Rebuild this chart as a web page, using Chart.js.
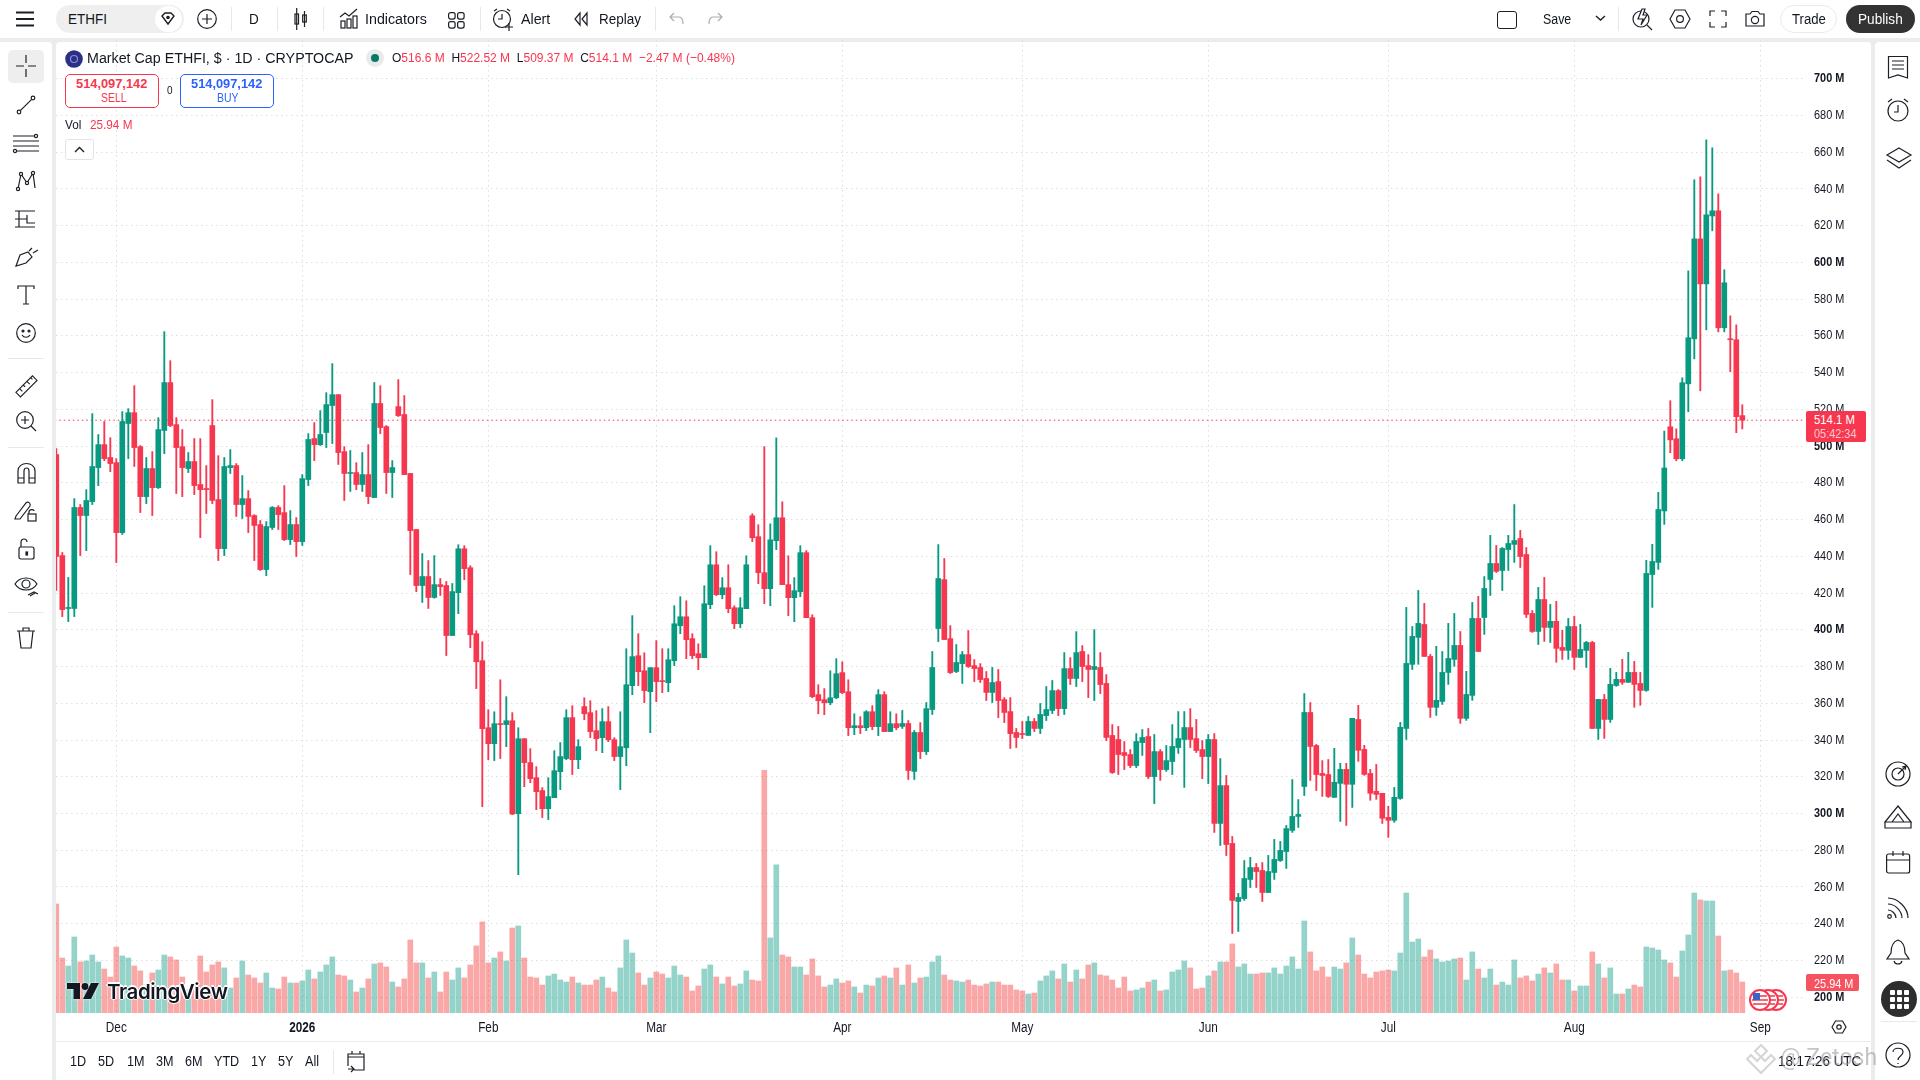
<!DOCTYPE html>
<html><head><meta charset="utf-8">
<script src="https://cdn.jsdelivr.net/npm/chart.js@4"></script>
<style>
html,body{margin:0;padding:0;width:1920px;height:1080px;overflow:hidden;background:#ebecec;font-family:"Liberation Sans",sans-serif;color:#131722}
.p{position:absolute;background:#fff}
.t{position:absolute;white-space:nowrap;line-height:1;transform-origin:0 50%}
svg{position:absolute;overflow:visible;fill:none;stroke:#1c1f26;stroke-width:1.2}
canvas{position:absolute;left:0;top:0}
.r{color:#f7374f}
</style></head><body>
<div class="p" style="left:0;top:0;width:1920px;height:38px"></div>
<div class="p" style="left:0;top:42px;width:52px;height:1038px;border-radius:0 4px 0 0"></div>
<div class="p" style="left:56px;top:42px;width:1815px;height:1038px;border-radius:4px 4px 0 0"></div>
<div class="p" style="left:1875px;top:42px;width:45px;height:1038px;border-radius:4px 0 0 0"></div>
<canvas id="c" width="1920" height="1080" style="width:1920px;height:1080px"></canvas>
<div id="ui"></div>
<script>
const monthTickIndex=[10,41,72,100,131,161,192,222,253,284];
const monthTickLabels=['Dec','2026','Feb','Mar','Apr','May','Jun','Jul','Aug','Sep'];
const priceTicks=[200,220,240,260,280,300,320,340,360,380,400,420,440,460,480,500,520,540,560,580,600,620,640,660,680,700];
const lastPrice=[514.1,514.1];
const opens=[495.4,440.4,411.6,411.6,466.6,462.2,469.8,488.3,500.8,493.8,
491.0,452.9,512.3,518.2,499.7,472.5,487.8,477.4,508.5,534.6,
511.7,499.7,487.8,491.6,479.1,476.9,511.2,470.9,444.2,488.3,
489.4,468.2,471.4,462.2,457.3,432.8,455.7,466.6,463.8,449.1,
457.3,448.0,481.8,504.1,500.8,507.4,522.1,528.0,497.0,485.1,
485.6,479.1,484.5,472.0,523.2,510.6,485.6,521.5,517.2,485.1,
454.6,424.1,429.0,417.6,424.6,424.1,396.9,420.2,444.1,433.8,
397.9,383.2,346.7,338.0,348.9,348.4,350.5,299.9,340.7,327.7,
319.5,312.5,302.6,308.6,322.8,329.9,352.2,329.3,358.2,354.9,
345.1,341.3,350.0,340.2,331.0,335.8,369.6,385.9,377.7,366.3,
379.4,372.3,371.2,383.2,402.2,407.1,395.2,387.0,384.8,413.7,
435.4,419.1,422.9,412.0,403.3,411.5,462.1,450.7,431.1,422.4,
448.5,461.0,424.6,417.5,420.7,442.0,406.6,364.7,362.0,360.3,
363.0,376.7,366.3,346.7,347.8,346.7,355.4,347.3,364.7,344.6,
348.9,347.4,349.0,322.9,344.1,333.7,356.6,400.7,427.3,395.2,
377.3,381.6,386.5,380.5,379.5,373.5,365.9,371.8,362.0,355.5,
344.1,343.5,342.5,350.1,346.3,353.3,356.1,366.9,357.1,378.9,
373.5,388.2,380.5,378.4,379.5,370.8,342.5,340.3,333.2,332.1,
326.1,338.6,341.9,320.1,333.7,323.9,328.3,335.9,340.3,346.8,
340.8,334.8,331.0,340.3,294.6,315.2,283.7,252.1,253.7,264.1,
270.6,269.0,257.0,267.9,274.4,279.3,290.8,298.4,314.7,355.0,
337.0,321.8,321.2,308.8,316.4,324.0,315.9,351.2,334.9,321.8,
312.1,311.0,297.9,296.3,308.2,346.3,381.2,395.9,402.9,385.5,
357.8,361.0,376.8,383.9,391.5,351.8,364.3,406.2,406.7,427.4,
436.1,432.3,443.7,446.5,449.7,441.0,408.9,399.1,416.5,401.3,
404.6,390.4,388.8,401.8,385.0,388.8,393.1,346.3,362.1,351.2,
369.7,373.0,371.4,376.8,370.8,367.0,430.1,436.7,464.7,510.5,
504.0,493.1,533.9,558.4,612.8,588.3,625.3,628.1,564.4,558.4,
557.9,516.6];
const closes=[439.9,411.0,412.1,466.6,462.2,470.4,488.9,500.8,493.2,490.5,
452.9,513.4,518.2,499.2,472.5,487.8,477.4,509.0,534.6,511.2,
499.2,488.3,491.6,478.5,476.3,476.3,470.4,444.2,488.9,489.4,
468.2,471.4,461.7,456.8,432.8,456.2,466.6,462.7,449.1,457.3,
448.0,482.3,503.6,500.8,506.3,522.6,528.0,496.5,485.1,485.6,
479.1,484.5,472.5,523.2,510.1,485.6,488.3,516.6,484.5,454.0,
424.1,429.0,417.6,424.6,423.5,396.9,420.8,444.1,433.3,397.3,
382.6,346.2,338.0,348.9,348.4,350.5,299.7,340.7,327.7,319.0,
311.9,302.6,309.2,323.3,331.0,352.2,329.3,336.4,354.3,344.6,
340.7,350.0,340.2,331.0,336.4,370.1,385.4,377.2,366.9,379.4,
371.8,371.8,383.7,403.3,407.1,394.6,385.9,384.8,414.2,435.4,
419.1,422.9,411.5,403.3,412.0,435.4,450.1,431.1,422.4,449.0,
461.0,424.6,417.5,421.3,442.0,406.6,363.6,361.4,360.3,363.0,
376.1,365.8,346.7,347.8,346.7,355.4,347.3,364.7,344.6,348.9,
346.7,349.0,323.4,344.1,333.7,357.1,379.5,427.9,394.7,376.7,
382.2,386.5,380.0,378.9,372.9,365.9,371.3,361.5,355.0,343.5,
341.4,343.0,350.1,346.3,353.9,356.6,366.9,357.1,378.9,373.5,
387.6,380.0,378.4,380.0,370.2,341.4,322.3,332.1,331.6,326.1,
339.2,341.4,320.1,333.7,323.9,328.8,336.5,340.8,346.8,340.3,
334.3,331.0,340.3,294.6,315.2,283.1,252.7,254.3,264.6,270.6,
268.4,257.0,268.4,275.0,279.9,291.8,298.4,299.5,355.0,336.5,
321.2,320.7,309.3,317.0,324.0,315.9,351.8,334.4,321.3,311.0,
310.4,297.4,296.3,308.8,346.9,381.7,396.4,403.5,385.5,357.8,
361.6,376.8,384.4,391.5,351.8,364.8,406.2,388.2,422.5,436.1,
431.8,444.3,447.0,448.6,439.9,408.4,399.1,416.5,401.3,404.6,
389.9,388.8,401.8,385.0,389.3,393.1,346.3,362.1,351.2,370.3,
373.0,371.4,376.8,370.3,367.0,430.7,437.2,465.5,488.1,503.4,
493.1,534.5,559.0,612.8,588.3,625.9,628.1,564.4,588.9,557.9,
516.0,514.1];
const highs=[498.7,442.1,428.5,471.4,468.2,476.3,517.7,506.3,513.4,504.6,
493.2,518.8,520.4,532.9,500.3,493.8,497.0,515.5,562.3,546.5,
515.5,509.0,496.5,504.1,504.1,489.4,525.3,494.8,493.8,498.1,
490.5,484.0,475.8,462.7,459.5,458.9,467.1,467.6,478.5,464.9,
461.1,484.5,506.8,512.8,519.3,529.1,544.9,528.0,499.7,497.6,
491.0,496.5,500.8,534.6,532.9,511.2,492.1,536.2,527.5,485.1,
454.6,441.5,437.7,440.4,427.9,426.3,425.2,446.3,445.8,434.9,
399.5,393.5,356.5,355.4,372.8,363.6,354.9,346.7,340.7,335.3,
325.5,314.1,319.5,334.2,338.6,356.5,358.7,340.2,363.0,361.4,
356.0,357.1,358.2,341.3,355.4,389.7,407.7,397.9,387.5,379.4,
394.1,389.7,389.7,413.1,418.0,415.8,397.9,392.4,424.0,445.8,
442.5,428.4,435.4,413.1,417.5,440.3,463.2,457.2,499.7,457.7,
504.5,469.7,440.3,428.4,445.8,443.1,408.2,370.1,368.0,377.7,
384.3,382.6,372.8,354.3,352.7,356.0,358.7,367.4,366.3,355.4,
354.3,356.1,350.6,345.2,349.5,360.4,388.2,446.4,438.8,402.3,
392.0,388.2,399.6,383.8,381.6,377.3,379.5,378.4,363.1,363.1,
346.3,350.1,352.8,351.7,359.9,369.1,372.4,367.5,387.6,384.9,
399.0,391.4,386.5,400.1,387.6,375.6,348.4,347.4,339.2,334.8,
343.5,345.7,346.3,343.0,334.8,337.0,348.4,355.5,355.5,357.1,
351.2,339.7,343.0,343.5,329.9,320.7,287.5,256.5,274.4,276.1,
272.8,273.3,277.2,285.9,284.8,293.5,318.5,307.6,365.3,360.4,
337.6,328.8,329.4,335.5,327.3,327.3,351.8,358.9,337.1,324.0,
326.7,311.0,303.9,314.2,349.6,412.2,401.8,421.4,414.4,386.6,
391.0,388.2,403.5,408.9,399.1,377.4,414.9,418.2,429.0,451.4,
445.9,444.8,451.4,468.2,454.1,444.8,410.5,423.1,428.5,413.8,
415.5,399.7,406.2,407.3,402.9,393.7,393.7,362.1,364.8,379.0,
376.8,383.9,387.7,382.8,376.8,437.8,446.5,474.8,508.2,524.7,
509.4,537.2,595.4,645.0,646.6,666.7,662.4,637.3,596.0,570.9,
566.0,522.52];
const lows=[421.4,407.2,404.5,407.2,440.4,443.1,468.2,478.5,492.1,486.1,
436.6,451.9,493.2,488.9,463.8,468.7,462.2,476.9,495.9,510.6,
474.2,472.5,485.6,473.6,450.2,463.3,468.7,437.7,440.4,485.1,
461.7,460.6,452.9,437.7,432.3,429.5,454.6,454.6,448.6,446.4,
439.9,445.9,478.5,492.1,500.3,499.2,501.4,490.0,470.4,475.3,
476.3,475.3,468.7,472.0,506.8,474.2,472.0,516.1,484.5,430.1,
420.8,414.9,411.6,417.2,418.7,386.0,396.9,408.8,427.3,390.3,
368.0,303.7,329.3,328.8,329.9,336.4,299.4,266.7,314.6,316.8,
302.1,297.8,296.7,308.6,313.0,329.3,321.2,324.4,351.1,341.3,
334.2,333.1,339.1,328.8,313.0,326.0,364.7,369.6,360.3,344.0,
360.9,365.8,366.3,380.5,397.9,384.3,384.3,378.3,384.8,411.5,
418.6,416.9,409.3,400.6,401.1,411.5,448.0,425.1,414.2,413.1,
443.6,424.6,407.7,404.4,418.0,406.6,363.0,354.3,353.8,359.2,
362.5,365.2,342.4,342.9,343.5,345.1,345.6,342.4,344.6,344.6,
345.6,346.3,318.5,318.5,329.9,332.1,353.9,393.6,394.7,376.2,
376.7,370.8,379.5,371.8,371.3,361.5,360.4,352.2,349.5,335.4,
335.9,340.8,342.5,344.6,343.5,350.6,354.4,353.3,353.9,370.2,
369.1,371.8,363.1,361.5,365.3,339.7,321.8,321.2,323.9,325.0,
325.0,331.6,319.0,305.4,318.0,322.9,321.2,332.7,314.2,335.9,
333.2,319.0,316.3,289.7,282.6,277.1,234.7,235.8,252.7,259.7,
259.7,252.1,257.0,264.1,273.9,270.1,289.7,292.4,309.8,318.0,
312.5,309.3,308.7,308.8,295.7,293.5,303.3,328.4,320.8,307.2,
307.7,294.6,287.0,295.2,307.7,340.3,378.4,381.2,385.5,352.3,
353.4,359.4,370.3,380.1,349.1,350.7,361.6,388.2,397.5,418.7,
431.2,421.4,432.3,436.7,433.9,406.7,398.6,392.0,393.7,393.1,
382.3,383.9,383.9,378.4,385.0,379.5,346.3,340.3,340.9,349.6,
369.2,370.3,371.4,357.8,358.9,366.5,412.2,432.9,457.4,496.4,
492.0,492.0,518.7,547.5,530.1,563.3,617.2,562.2,562.2,540.5,
507.3,509.37];
const volumes=[91.2,46.0,39.3,63.6,42.7,43.5,48.5,42.7,36.8,30.1,
55.2,47.7,46.0,39.3,35.2,23.4,33.5,36.0,48.5,46.9,
44.4,30.1,19.3,23.4,47.7,34.3,40.2,42.7,37.7,20.9,
29.3,43.5,31.8,29.3,25.1,33.5,20.9,20.1,30.1,25.1,
25.1,26.8,36.0,28.5,34.3,40.2,46.9,31.8,31.0,27.6,
17.6,20.9,28.5,41.0,41.9,38.5,25.9,21.8,28.5,61.1,
41.9,41.9,29.3,34.3,17.6,34.3,27.6,37.7,29.3,40.2,
56.1,76.2,41.9,46.0,51.1,43.5,71.1,72.8,46.0,30.1,
29.3,23.4,31.0,32.6,27.6,25.9,30.1,25.1,23.4,23.4,
27.6,30.1,20.9,17.6,37.7,61.1,50.2,33.5,23.4,29.3,
34.3,32.6,29.3,39.3,31.8,30.1,18.4,22.6,36.8,40.2,
30.1,24.3,30.1,22.6,24.3,35.2,27.6,26.8,203.0,62.8,
124.0,48.5,46.9,38.5,38.5,31.8,45.2,31.0,21.8,23.4,
28.5,25.1,26.8,21.8,16.7,23.4,22.6,29.3,31.0,29.3,
37.7,23.4,40.2,25.1,29.3,30.1,42.7,47.7,31.8,27.6,
26.8,25.9,27.6,23.4,22.6,24.3,25.9,25.9,23.4,23.4,
19.3,18.4,15.9,16.7,26.8,31.0,35.2,28.5,41.0,25.9,
36.0,28.5,40.2,41.9,31.8,31.0,27.6,20.9,30.1,18.4,
19.3,20.9,25.9,27.6,18.4,19.3,34.3,36.0,43.5,37.7,
20.1,20.9,31.0,35.2,42.7,42.7,57.8,38.5,41.0,32.6,
32.6,33.5,33.5,37.7,32.6,39.3,46.9,36.8,77.0,51.1,
35.2,38.5,30.1,38.5,36.8,41.9,62.8,48.5,32.6,29.3,
34.3,35.2,36.0,35.2,50.2,100.4,59.4,61.9,46.9,52.7,
45.2,42.7,43.5,45.2,46.0,27.6,51.1,36.8,29.3,36.8,
23.4,25.9,23.4,44.4,29.3,31.0,26.8,32.6,37.7,33.5,
41.0,27.6,27.6,18.4,22.6,22.6,51.1,41.0,29.3,37.7,
15.9,15.9,20.1,23.4,21.8,55.2,54.4,52.7,44.4,41.9,
30.1,51.9,65.3,100.4,94.6,93.7,93.7,64.4,35.2,36.0,
33.5,25.94];

const UP='#089981',DOWN='#F7374F',UPV='rgba(8,153,129,.43)',DOWNV='rgba(242,54,54,.44)';
const isUp=opens.map((o,i)=>closes[i]>=o);
const bodies=opens.map((o,i)=>({x:i,y:[o,closes[i]]}));
const wicks=highs.map((h,i)=>({x:i,y:[lows[i],h]}));
const vols=volumes.map((v,i)=>({x:i,y:v}));
const candleColor=isUp.map(u=>u?UP:DOWN);
const volColor=isUp.map(u=>u?UPV:DOWNV);

Chart.defaults.font.family='"Liberation Sans",sans-serif';
const canvas=document.getElementById('c');
// axis text in the reference is set narrow: condense labels horizontally around their anchor
const ctx0=canvas.getContext('2d');const origFill=ctx0.fillText.bind(ctx0);
ctx0.fillText=function(t,x,y,m){ctx0.save();ctx0.translate(x,y);ctx0.scale(.84,1);origFill(t,0,0);ctx0.restore();};
new Chart(canvas,{
  data:{datasets:[
    {type:'bar',label:'Vol',data:vols,yAxisID:'vol',xAxisID:'x',backgroundColor:volColor,barThickness:5,grouped:false,order:4},
    {type:'line',label:'Last',data:[{x:-1,y:lastPrice[0]},{x:292,y:lastPrice[1]}],yAxisID:'y',xAxisID:'x',borderColor:DOWN,borderWidth:1,borderDash:[1.5,3],pointRadius:0,order:3},
    {type:'bar',label:'Wick',data:wicks,yAxisID:'y',xAxisID:'x',backgroundColor:candleColor,barThickness:1.2,grouped:false,order:2},
    {type:'bar',label:'Body',data:bodies,yAxisID:'y',xAxisID:'x',backgroundColor:candleColor,barThickness:5,grouped:false,minBarLength:1,order:1}
  ]},
  options:{
    responsive:false,animation:false,devicePixelRatio:1,
    layout:{padding:{left:56,top:40,right:0,bottom:0}},
    plugins:{legend:{display:false},tooltip:{enabled:false}},
    scales:{
      x:{type:'linear',position:'bottom',offset:false,min:-0.05,max:291.45,
        afterBuildTicks:s=>{s.ticks=monthTickIndex.map(v=>({value:v}));},
        afterFit:s=>{s.height=67;},
        grid:{color:'#dcdedf',lineWidth:1,drawTicks:false,offset:false},
        border:{display:false,dash:[1.5,3.5]},
        ticks:{autoSkip:false,maxRotation:0,padding:7,color:'#131722',
          font:c=>({size:14,weight:c.tick&&c.tick.value===41?'700':'400'}),
          callback:(v)=>{const k=monthTickIndex.indexOf(v);return k<0?'':monthTickLabels[k];}}},
      y:{type:'linear',position:'right',min:191.4,max:721.07,
        afterBuildTicks:s=>{s.ticks=priceTicks.map(v=>({value:v}));},
        afterFit:s=>{s.width=115;},
        grid:{color:'#dcdedf',lineWidth:1,drawTicks:false},
        border:{display:false,dash:[1.5,3.5]},
        ticks:{autoSkip:false,padding:9,color:'#131722',
          font:c=>({size:13,weight:c.tick&&c.tick.value%100===0?'700':'400'}),
          callback:v=>v+' M'}},
      vol:{type:'linear',display:false,position:'left',min:0,max:814,grid:{display:false}}
    }
  }
});

const ui=document.getElementById('ui');let h='';
const T=(x,y,s,txt,extra='',sx=.87)=>{h+=`<div class="t" style="left:${x}px;top:${y}px;font-size:${s}px;transform:translateY(-50%) scaleX(${sx});${extra}">${txt}</div>`;};
const S=(x,y,w,hh,inner,extra='')=>{h+=`<svg style="left:${x}px;top:${y}px;${extra}" width="${w}" height="${hh}" viewBox="0 0 ${w} ${hh}">${inner}</svg>`;};
const B=(x,y,w,hh,st)=>{h+=`<div style="position:absolute;left:${x}px;top:${y}px;width:${w}px;height:${hh}px;${st}"></div>`;};
// top bar
S(16,11,18,16,'<path d="M0 1.5H18M0 8H18M0 14.5H18" stroke-width="2"/>');
B(56,5,128,28,'background:#efefef;border-radius:14px');
B(155,6,27,26,'background:#fff;border-radius:13px');
T(68,19,15.5,'ETHFI','');
S(161,12,14,14,'<path d="M1 4L4 1H10L13 4L7 12Z" stroke-width="1.4"/><circle cx="7" cy="5.5" r="1.2" fill="#1c1f26"/>');
S(197,9,20,20,'<circle cx="10" cy="10" r="9.3"/><path d="M10 5V15M5 10H15"/>');
[231,277,323,480,655,1618].forEach(x=>B(x,7,1,24,'background:#e8e8e8'));
T(249,19,15.5,'D');
S(294,8,14,22,'<rect x="1" y="6" width="3.5" height="10"/><path d="M2.7 0V22M10.5 3V19"/><rect x="8.7" y="7" width="3.6" height="7"/>');
S(340,8,18,20,'<path d="M0 9L5 5L9 8L17 1"/><rect x="1" y="13" width="4" height="7"/><rect x="7" y="11" width="4" height="9"/><rect x="13" y="8" width="4" height="12"/>');
T(365,19,15.5,'Indicators','',.92);
S(448,12,17,17,'<rect x="0.6" y="0.6" width="6.5" height="6.5" rx="2"/><rect x="9.6" y="0.6" width="6.5" height="6.5" rx="2"/><rect x="0.6" y="9.6" width="6.5" height="6.5" rx="2"/><rect x="9.6" y="9.6" width="6.5" height="6.5" rx="2"/>');
S(492,8,21,23,'<circle cx="10" cy="11" r="8.5"/><path d="M10 6V11H6M2 3L5 1M18 3L15 1M13 19H21M17 15V23"/>');
T(521,19,15.5,'Alert','',.92);
S(574,13,14,12,'<path d="M6 0L1 6L6 12ZM13 0L8 6L13 12Z"/>');
T(599,19,15.5,'Replay');
S(670,13,13,11,'<path d="M4 0L0 4L4 8M0 4H9C12 4 13 7 13 11" stroke="#a9adb3"/>');
S(709,13,13,11,'<path d="M9 0L13 4L9 8M13 4H4C1 4 0 7 0 11" stroke="#a9adb3"/>');
B(1497,11,18,16,'border:1.3px solid #1c1f26;border-radius:3px');
T(1543,19,15.5,'Save','',.8);
S(1596,16,9,5,'<path d="M0 0L4.5 4L9 0" stroke-width="1.4"/>');
S(1632,8,20,22,'<circle cx="9" cy="11" r="8"/><path d="M15 17L20 22M10 1L6 11H11L9 17L15 7H11L13 1Z" fill="#fff"/>');
S(1670,10,20,18,'<path d="M0 9L5 0H15L20 9L15 18H5Z"/><circle cx="10" cy="9" r="3.4"/>');
S(1710,11,16,16,'<path d="M0 5V0H5M11 0H16V5M16 11V16H11M5 16H0V11"/>');
S(1745,11,20,16,'<path d="M1 3H5L7 0.5H13L15 3H19V15H1Z"/><circle cx="10" cy="9" r="3.6"/>');
B(1780,5,57,28,'border:1px solid #eaeaea;border-radius:14px;box-sizing:border-box;background:#fff');
T(1792,19,15.5,'Trade','',.85);
B(1846,5,69,28,'background:#333;border-radius:14px');
T(1858,19,15.5,'Publish','color:#fff;',.88);
// legend
S(65,50,18,18,'<circle cx="9" cy="9" r="8.8" fill="#2b2f86" stroke="none"/><circle cx="9" cy="9" r="3.5" stroke="#8890d8"/>');
T(87,58,15.5,'Market Cap ETHFI, $ · 1D · CRYPTOCAP','',.92);
S(366,49,18,18,'<circle cx="9" cy="9" r="9" fill="#e9ebeb" stroke="none"/><circle cx="9" cy="9" r="4" fill="#067a6a" stroke="none"/>');
T(392,58,13.2,'O<span class="r">516.6 M</span> &nbsp;H<span class="r">522.52 M</span> &nbsp;L<span class="r">509.37 M</span> &nbsp;C<span class="r">514.1 M</span> &nbsp;<span class="r">−2.47 M (−0.48%)</span>','',.91);
B(65,74,94,34,'border:1px solid #f7374f;border-radius:5px;box-sizing:border-box;background:#fff');
T(76,84,13.5,'514,097,142','color:#f7374f;font-weight:700;',.95);
T(101,98,12,'SELL','color:#f7374f;');
T(167,91,11.5,'0');
B(180,74,94,34,'border:1px solid #2962ff;border-radius:5px;box-sizing:border-box;background:#fff');
T(191,84,13.5,'514,097,142','color:#2962ff;font-weight:700;',.95);
T(217,98,12,'BUY','color:#2962ff;');
T(65,125,13.5,'Vol');
T(90,125,13.5,'25.94 M','color:#f7374f;');
B(65,139,29,21,'border:1px solid #e3e3e3;border-radius:3px;box-sizing:border-box;background:#fff');
S(75,147,9,5,'<path d="M0 5L4.5 0.5L9 5" stroke-width="1.4"/>');
// tags
B(1806,411,60,31,'background:#f7374f;border-radius:2px');
T(1814,420,13.5,'514.1 M','color:#fff;',.84);
T(1814,433,13,'05:42:34','color:#fbc8ce;',.84);
B(1806,974,53,17,'background:#f7525f;border-radius:2px');
T(1814,983,13,'25.94 M','color:#fff;',.84);
// left toolbar
B(8,50,36,33,'background:#eeeeee;border-radius:5px');
S(16,55,20,22,'<path d="M10 0V8M10 14V22M0 11H8M12 11H20"/>');
S(17,96,18,18,'<circle cx="16" cy="2" r="1.8"/><circle cx="2" cy="16" r="1.8"/><path d="M3.3 14.7L14.7 3.3"/>');
S(13,135,26,17,'<path d="M0 1H22M0 6H26M0 11H26M4 16H26"/><circle cx="23" cy="1" r="1.6" fill="#fff"/><circle cx="2" cy="16" r="1.6" fill="#fff"/>');
S(15,171,22,20,'<path d="M3 18L6 3L12 12L18 2L20 17" /><circle cx="6" cy="3" r="1.6" fill="#fff"/><circle cx="12" cy="12" r="1.6" fill="#fff"/><circle cx="18" cy="2" r="1.6" fill="#fff"/><circle cx="3" cy="18" r="1.6" fill="#fff"/>');
S(15,209,22,20,'<path d="M0 2H20M0 18H20M4 2V18M0 10H12M12 6V14H20"/>');
S(15,247,24,20,'<path d="M1 19L5 8L13 5L17 10L11 16Z M14 4L17 1M18 6L23 3"/>');
S(18,286,16,18,'<path d="M0 3V0H16V3M8 0V18M5 18H11"/>');
S(16,323,20,20,'<circle cx="10" cy="10" r="9.3"/><circle cx="7" cy="8" r="1" fill="#1c1f26"/><circle cx="13" cy="8" r="1" fill="#1c1f26"/><path d="M6 12C8 15 12 15 14 12"/>');
B(8,358,36,1,'background:#e8e8e8');
S(14,372,24,26,'<path d="M1 21L19 3L24 8L6 26Z M5 17L8 20M9 13L11 15M13 9L16 12M17 5L19 7"/>',"transform:scale(.92)");
S(16,411,20,20,'<circle cx="9" cy="9" r="8.3"/><path d="M15 15L20 20M5 9H13M9 5V13"/>');
B(8,447,36,1,'background:#e8e8e8');
S(18,463,17,20,'<path d="M0 20V8C0 -2 17 -2 17 8V20H11V8C11 4 6 4 6 8V20ZM0 15H6M11 15H17"/>');
S(15,500,22,22,'<path d="M1 16L11 3C13 1 16 3 15 6L5 19L0 19Z"/><rect x="13" y="14" width="8" height="7" fill="#fff"/><path d="M14 14V12C14 9 19 9 19 11"/>');
S(18,538,16,22,'<rect x="1" y="9" width="15" height="12" rx="2"/><path d="M3 9V4C3 0 9 0 9 4" /><rect x="8" y="14" width="1.5" height="3" fill="#1c1f26"/>');
S(15,576,24,22,'<path d="M0 8C5 0 17 0 22 8C17 16 5 16 0 8Z"/><circle cx="11" cy="8" r="4"/><path d="M13 19L19 16L23 18M15 20L20 17" />');
B(8,612,36,1,'background:#e8e8e8');
S(17,628,18,20,'<path d="M0 3H18M2 3L4 20H14L16 3M6 3V0H12V3"/>');
// right toolbar
S(1888,56,20,23,'<path d="M0.5 0.5H19.5V22L10 19L0.5 22Z M4 5H16M4 9H16M4 13H16"/>');
S(1887,98,22,24,'<circle cx="11" cy="13" r="10"/><path d="M11 7V14H7M1 4L5 1M21 4L17 1"/>');
S(1887,148,24,20,'<path d="M12 0L24 7L12 14L0 7ZM0 12L12 20L24 12"/>');
S(1885,761,26,26,'<circle cx="13" cy="13" r="12"/><circle cx="13" cy="13" r="6"/><path d="M13 13L21 5M17 6L21 5L20 9"/>');
S(1885,806,26,22,'<path d="M13 0L26 16H0Z M7 16L13 8L19 16M0 16V22H26V16"/>');
S(1886,851,24,22,'<rect x="0.6" y="3" width="23" height="19" rx="2"/><path d="M0.6 9H23.6M7 0V5M17 0V5"/>');
S(1887,895,22,24,'<path d="M1 3C11 3 21 13 21 23M1 9C8 9 15 16 15 23M1 15C5 15 9 19 9 23"/><circle cx="2.5" cy="21.5" r="1.8"/>');
S(1886,940,24,26,'<path d="M12 0C6 2 5 7 5 13L1 19H23L19 13C19 7 18 2 12 0ZM8 21C9 25 15 25 16 21"/>');
B(1881,981,36,36,'background:#2e2e2e;border-radius:18px');
[0,1,2].forEach(r=>[0,1,2].forEach(c=>B(1890+c*7,990+r*7,5,5,'background:#fff;border-radius:1px')));
B(1881,1021,36,1,'background:#e8e8e8');
S(1885,1042,26,26,'<circle cx="13" cy="13" r="12"/><path d="M8 10C8 5 18 5 18 10C18 14 13 14 13 18M13 21V22"/>');
// bottom bar
B(56,1041,1815,1,'background:#ebebeb');
[['1D',70],['5D',98],['1M',127],['3M',156],['6M',185],['YTD',214],['1Y',251],['5Y',278],['All',305]].forEach(a=>T(a[1],1061,14.5,a[0]));
B(333,1050,1,24,'background:#e8e8e8');
S(347,1051,17,20,'<path d="M1 15V3H17V19H7M1 6H17M5 0V3M13 0V3M1 18H7M4 15L7 18L4 21"/>');
S(1832,1020,14,14,'<path d="M0 7L3.5 1H10.5L14 7L10.5 13H3.5Z"/><circle cx="7" cy="7" r="2.2"/>');
T(1778,1061,14.5,'18:17:26 UTC','',.92);
// watermark
S(1745,1043,32,32,'<path d="M16 2L22 8L16 14L10 8ZM6 12L12 18L16 14L20 18L26 12L30 16L16 30L2 16Z" stroke="#d5d5d5" stroke-width="2"/>');
T(1780,1057,23,'@ Zetosh','color:rgba(150,150,150,.55);font-family:Roboto,sans-serif;',1);
// flags
[1749,1757,1765].reverse().forEach(x=>{S(x,989,22,22,'<circle cx="11" cy="11" r="10" fill="#fff" stroke="#f7374f" stroke-width="2"/><path d="M4 7H18M3 11H19M4 15H18" stroke="#f26a74" stroke-width="2"/><rect x="4" y="4" width="7" height="7" fill="#3b63c4" stroke="none"/>');});
// logo
S(67,983,32,17,'<path d="M0 0H13V16H6.5V6H0Z" fill="#131722" stroke="none"/><circle cx="18" cy="3.5" r="3.4" fill="#131722" stroke="none"/><path d="M24 0H32L24 16H16Z" fill="#131722" stroke="none"/>','filter:drop-shadow(0 0 1px #fff);');
T(107,992,20.5,'TradingView','font-family:Inter,sans-serif;font-weight:600;letter-spacing:-.4px;text-shadow:-1.5px 0 #fff,1.5px 0 #fff,0 -1.5px #fff,0 1.5px #fff;',1);
ui.innerHTML=h;
</script>
</body></html>
